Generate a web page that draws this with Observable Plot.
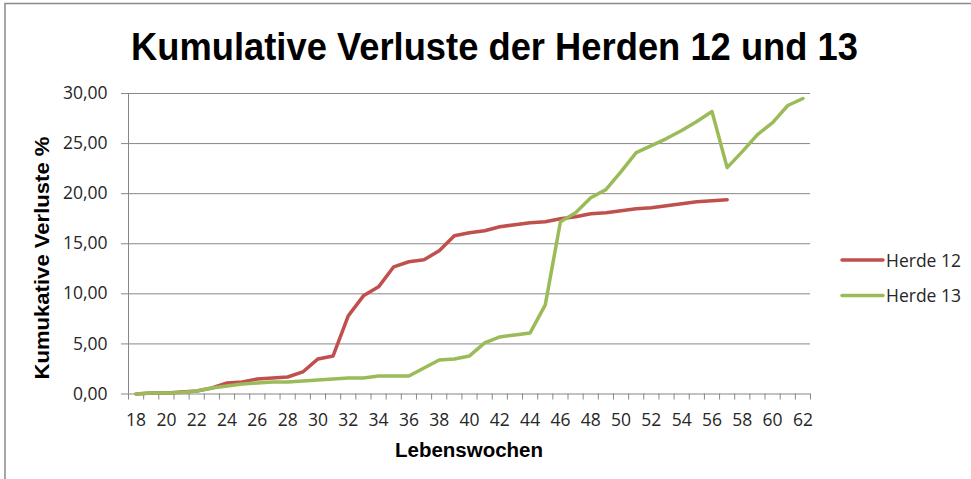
<!DOCTYPE html>
<html>
<head>
<meta charset="utf-8">
<script src="https://cdn.jsdelivr.net/npm/d3@7"></script>
<script src="https://cdn.jsdelivr.net/npm/@observablehq/plot@0.6"></script>
<style>
  html, body { margin: 0; padding: 0; background: #fff; }
  #wrap { position: relative; width: 971px; height: 479px; overflow: hidden; background: #fff; }
  #wrap svg { position: absolute; left: 0; top: 0; }
</style>
</head>
<body>
<div id="wrap"></div>
<script>
// ---- Data ----
const weeks12 = [18,19,20,21,22,23,24,25,26,27,28,29,30,31,32,33,34,35,36,37,38,39,40,41,42,43,44,45,46,47,48,49,50,51,52,53,54,55,56,57];
const herde12 = [0.0,0.1,0.1,0.2,0.3,0.6,1.1,1.2,1.5,1.6,
                 1.7,2.2,3.5,3.8,7.8,9.8,10.7,12.7,13.2,13.4,
                 14.3,15.8,16.1,16.3,16.7,16.9,17.1,17.2,17.5,17.7,
                 18.0,18.1,18.3,18.5,18.6,18.8,19.0,19.2,19.3,19.4];
const weeks13 = [18,19,20,21,22,23,24,25,26,27,28,29,30,31,32,33,34,35,36,37,38,39,40,41,42,43,44,45,46,47,48,49,50,51,52,53,54,55,56,57,58,59,60,61,62];
const herde13 = [0.0,0.1,0.1,0.15,0.3,0.6,0.8,1.0,1.1,1.2,
                 1.2,1.3,1.4,1.5,1.6,1.6,1.8,1.8,1.8,2.6,
                 3.4,3.5,3.8,5.1,5.7,5.9,6.1,8.9,17.2,18.1,
                 19.6,20.4,22.2,24.1,24.8,25.5,26.3,27.2,28.2,22.6,
                 24.2,25.9,27.1,28.8,29.5];
const seriesNames = ["Herde 12", "Herde 13"];
const seriesColors = ["#C0504D", "#9BBB59"];
const yTicks = [0, 5, 10, 15, 20, 25, 30];
const xLabels = [18,20,22,24,26,28,30,32,34,36,38,40,42,44,46,48,50,52,54,56,58,60,62];
const titleText = "Kumulative Verluste der Herden 12 und 13";
const yLabel = "Kumukative Verluste %";
const xLabel = "Lebenswochen";

// ---- Build tables ----
const data12 = weeks12.map((w, i) => ({week: w, value: herde12[i], serie: seriesNames[0]}));
const data13 = weeks13.map((w, i) => ({week: w, value: herde13[i], serie: seriesNames[1]}));
const allWeeks = weeks13;
const bandEdges = [allWeeks[0] - 0.5, ...allWeeks.map(w => w + 0.5)];

const gridColor = "#878787";
const textColor = "#262626";

const chart = Plot.plot({
  width: 971,
  height: 479,
  marginLeft: 128,
  marginRight: 161,
  marginTop: 93,
  marginBottom: 85.5,
  x: {domain: [bandEdges[0], bandEdges[bandEdges.length - 1]], axis: null},
  y: {domain: [0, 30], axis: null},
  style: {fontFamily: "'Open Sans', sans-serif", fontSize: "17.5px", color: textColor, background: "transparent", overflow: "visible"},
  marks: [
    Plot.ruleY(yTicks, {stroke: gridColor, strokeWidth: 1, strokeOpacity: 1}),
    Plot.ruleX([bandEdges[0]], {stroke: gridColor, strokeWidth: 1, strokeOpacity: 1}),
    Plot.axisY(yTicks, {
      tickSize: 7, tickPadding: 14, label: null,
      tickFormat: d => d.toFixed(2).replace(".", ","),
      stroke: gridColor, strokeOpacity: 1, fill: textColor
    }),
    Plot.axisX(bandEdges, {tickSize: 6, tickFormat: () => "", label: null, stroke: gridColor, strokeOpacity: 1}),
    Plot.axisX(xLabels, {tickSize: 0, tickPadding: 20, label: null, fill: textColor, tickFormat: d => String(d)}),
    Plot.line(data12, {x: "week", y: "value", stroke: seriesColors[0], strokeWidth: 3.5, strokeLinejoin: "round", strokeLinecap: "round"}),
    Plot.line(data13, {x: "week", y: "value", stroke: seriesColors[1], strokeWidth: 3.5, strokeLinejoin: "round", strokeLinecap: "round"})
  ]
});
document.getElementById("wrap").appendChild(chart);

// ---- Overlay: frame, title, axis labels, legend ----
const ov = d3.select("#wrap").append("svg")
  .attr("width", 971).attr("height", 479)
  .style("pointer-events", "none");

ov.append("path")
  .attr("d", "M5,479 V3.5 H971")
  .attr("fill", "none").attr("stroke", "#8a8a8a").attr("stroke-width", 1.5);

ov.append("text")
  .attr("x", 494.5).attr("y", 60)
  .attr("text-anchor", "middle")
  .attr("font-family", "'Liberation Sans', Arial, sans-serif")
  .attr("font-weight", "bold").attr("font-size", 38.5)
  .attr("textLength", 727).attr("lengthAdjust", "spacingAndGlyphs")
  .attr("fill", "#000")
  .text(titleText);

ov.append("text")
  .attr("transform", "translate(49,258) rotate(-90)")
  .attr("text-anchor", "middle")
  .attr("font-family", "'Liberation Sans', Arial, sans-serif")
  .attr("font-weight", "bold").attr("font-size", 20)
  .attr("textLength", 243).attr("lengthAdjust", "spacingAndGlyphs")
  .attr("fill", "#000")
  .text(yLabel);

ov.append("text")
  .attr("x", 469).attr("y", 457)
  .attr("text-anchor", "middle")
  .attr("font-family", "'Liberation Sans', Arial, sans-serif")
  .attr("font-weight", "bold").attr("font-size", 20)
  .attr("textLength", 148).attr("lengthAdjust", "spacingAndGlyphs")
  .attr("fill", "#000")
  .text(xLabel);

seriesNames.forEach((name, i) => {
  const y = 260 + i * 35.5;
  ov.append("line")
    .attr("x1", 842).attr("x2", 883).attr("y1", y).attr("y2", y)
    .attr("stroke", seriesColors[i]).attr("stroke-width", 3.5).attr("stroke-linecap", "round");
  ov.append("text")
    .attr("x", 886).attr("y", y + 6.5)
    .attr("font-family", "'Open Sans', sans-serif").attr("font-size", 17.5)
    .attr("fill", textColor)
    .text(name);
});
</script>
</body>
</html>
